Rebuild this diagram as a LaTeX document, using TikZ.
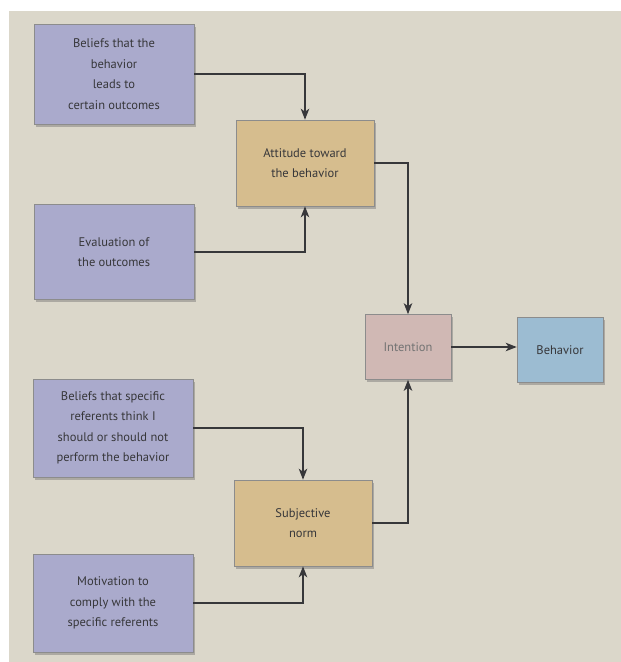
\documentclass[tikz,border=0pt]{standalone}
\usepackage{fontspec}
\setmainfont{PT Sans}
\usepackage{xcolor}
\usetikzlibrary{arrows.meta,shadows}
\definecolor{pagebg}{RGB}{219,215,202}
\definecolor{belief}{RGB}{170,170,204}
\definecolor{attit}{RGB}{214,189,142}
\definecolor{intent}{RGB}{208,184,180}
\definecolor{behav}{RGB}{156,188,210}
\definecolor{inkgray}{RGB}{55,55,58}
\tikzset{
  box/.style={
    rectangle, draw=black!45, line width=0.6pt,
    text=inkgray, align=center, font=\fontsize{12.5}{20.5}\selectfont,
    drop shadow={shadow xshift=2pt, shadow yshift=-2.5pt, fill=black!55, opacity=0.45}
  },
  source/.style={box, fill=belief, minimum width=160pt, minimum height=98pt},
  middle/.style={box, fill=attit, minimum width=138pt, minimum height=86pt},
  small/.style={box, minimum width=86pt, minimum height=65pt},
  arrow/.style={-{Stealth[length=11pt,width=8.5pt,inset=3pt]}, line width=1.3pt, inkgray},
}

\begin{document}
\begin{tikzpicture}[x=1pt,y=-1pt]
  % Page
  \fill[white] (0,0) rectangle (621,662);
  \fill[pagebg] (9,11) rectangle (621,662);
  \useasboundingbox (0,0) rectangle (621,662);

  % Nodes
  \node[source, minimum height=100pt] (beliefs) at (114,74)
    {Beliefs that the\\behavior\\leads to\\certain outcomes};
  \node[middle] (attitude) at (305,163) {Attitude toward\\the behavior};
  \node[source, minimum height=95pt] (eval) at (114,252)
    {Evaluation of\\the outcomes};
  \node[small, fill=intent, text=black!55] (intention) at (408,347) {Intention};
  \node[small, fill=behav] (behavior) at (560,350) {Behavior};
  \node[source] (referents) at (113,428)
    {Beliefs that specific\\referents think I\\should or should not\\perform the behavior};
  \node[middle] (norm) at (303,523) {Subjective\\norm};
  \node[source] (motiv) at (113,603)
    {Motivation to\\comply with the\\specific referents};

  % Arrows
  \draw[arrow] (beliefs.east) -| (attitude.north);
  \draw[arrow] (eval.east) -| (attitude.south);
  \draw[arrow] (attitude.east) -| (intention.north);
  \draw[arrow] (intention.east) -- (intention.east -| behavior.west);
  \draw[arrow] (referents.east) -| (norm.north);
  \draw[arrow] (motiv.east) -| (norm.south);
  \draw[arrow] (norm.east) -| (intention.south);
\end{tikzpicture}
\end{document}
